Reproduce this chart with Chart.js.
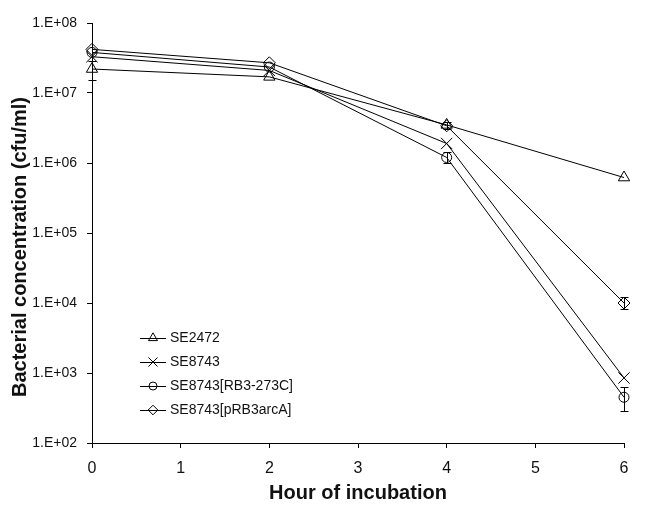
<!DOCTYPE html>
<html>
<head>
<meta charset="utf-8">
<script src="https://cdn.jsdelivr.net/npm/chart.js@4.4.0/dist/chart.umd.min.js"></script>
<style>
  body { margin: 0; background: #fff; }
  #chart { display: block; }
</style>
</head>
<body>
<canvas id="chart" width="645" height="507"></canvas>
<script>
const hours = [0, 2, 4, 6];
const seriesNames = ["SE2472", "SE8743", "SE8743[RB3-273C]", "SE8743[pRB3arcA]"];
const markers = ["triangle", "crossRot", "circle", "rectRot"];
const markerSizes = [6.5, 8, 5, 6];
const yTitle = "Bacterial concentration (cfu/ml)";

const se2472 = [2.2e7, 1.7e7, 3.5e6, 6.2e5];
const se8743 = [3.3e7, 2.1e7, 1.9e6, 8.5e2];
const rb3273c = [3.8e7, 2.35e7, 1.2e6, 4.5e2];
const prb3arca = [4.2e7, 2.7e7, 3.4e6, 1.0e4];

// error bars (low / high), null = none visible
const se2472Low = [1.55e7, null, 3.1e6, null];
const se2472High = [2.9e7, null, 3.9e6, null];
const se8743Low = [null, null, null, null];
const se8743High = [null, null, null, null];
const rb3273cLow = [null, null, 1.0e6, 2.9e2];
const rb3273cHigh = [null, null, 1.45e6, 6.3e2];
const prb3arcaLow = [null, null, null, 8.3e3];
const prb3arcaHigh = [null, null, null, 1.2e4];

const yTicks = [1e2, 1e3, 1e4, 1e5, 1e6, 1e7, 1e8];

const allValues = [se2472, se8743, rb3273c, prb3arca];
const allLow = [se2472Low, se8743Low, rb3273cLow, prb3arcaLow];
const allHigh = [se2472High, se8743High, rb3273cHigh, prb3arcaHigh];

const FONT = "'Liberation Sans', Arial, sans-serif";

const errorBars = {
    id: "errorBars",
    beforeDatasetsDraw(chart) {
        const ctx = chart.ctx;
        const xs = chart.scales.x, ys = chart.scales.y;
        ctx.save();
        ctx.strokeStyle = "#000";
        ctx.lineWidth = 1;
        chart.data.datasets.forEach((ds, k) => {
            const lo = allLow[k], hi = allHigh[k];
            for (let i = 0; i < hours.length; i++) {
                if (lo[i] == null) continue;
                const x = Math.round(xs.getPixelForValue(hours[i])) + 0.5;
                const y1 = Math.round(ys.getPixelForValue(lo[i])) + 0.5;
                const y2 = Math.round(ys.getPixelForValue(hi[i])) + 0.5;
                ctx.beginPath();
                ctx.moveTo(x, y1); ctx.lineTo(x, y2);
                ctx.moveTo(x - 4, y1); ctx.lineTo(x + 4, y1);
                ctx.moveTo(x - 4, y2); ctx.lineTo(x + 4, y2);
                ctx.stroke();
            }
        });
        ctx.restore();
    }
};

// legend inside the plot + y title (sits a bit below the centre in the original)
const legendBox = {
    id: "legendBox",
    afterDraw(chart) {
        const ctx = chart.ctx;
        ctx.save();
        ctx.font = "14px " + FONT;
        ctx.textBaseline = "middle";
        seriesNames.forEach((name, k) => {
            const y = 338 + k * 24;
            ctx.strokeStyle = "#000";
            ctx.fillStyle = "rgba(0,0,0,0)";
            ctx.lineWidth = 1;
            ctx.beginPath();
            ctx.moveTo(140, y + 0.5); ctx.lineTo(166, y + 0.5);
            ctx.stroke();
            Chart.helpers.drawPoint(ctx, { pointStyle: markers[k], radius: markerSizes[k] * 0.8, borderWidth: 1, rotation: 0 }, 153, y);
            ctx.fillStyle = "#111";
            ctx.fillText(name, 170, y);
        });
        ctx.translate(20, 247);
        ctx.rotate(-Math.PI / 2);
        ctx.font = "bold 20px " + FONT;
        ctx.textAlign = "center";
        ctx.fillText(yTitle, 0, 0);
        ctx.restore();
    }
};

const datasets = seriesNames.map((name, k) => ({
    label: name,
    data: hours.map((h, i) => ({ x: h, y: allValues[k][i] })),
    borderColor: "#000",
    borderWidth: 1,
    backgroundColor: "rgba(0,0,0,0)",
    pointStyle: markers[k],
    pointRadius: markerSizes[k],
    pointBorderColor: "#000",
    pointBackgroundColor: "rgba(0,0,0,0)",
    pointBorderWidth: 1,
    tension: 0,
    clip: false
}));

new Chart(document.getElementById("chart"), {
    type: "line",
    data: { datasets },
    options: {
        responsive: false,
        animation: false,
        layout: { padding: { left: 0, right: 21, top: 23, bottom: 0 } },
        plugins: {
            legend: { display: false },
            tooltip: { enabled: false }
        },
        scales: {
            x: {
                type: "linear",
                min: 0,
                max: 6,
                afterFit: s => { s.height = 64; },
                ticks: { stepSize: 1, color: "#111", font: { family: FONT, size: 16 }, padding: 11 },
                grid: { drawOnChartArea: false, drawTicks: true, tickLength: 5, color: "#000" },
                border: { color: "#000" },
                title: { display: true, text: "Hour of incubation", color: "#111", font: { family: FONT, size: 20, weight: "bold" }, padding: { top: 4, bottom: 2 } }
            },
            y: {
                type: "logarithmic",
                min: 1e2,
                max: 1e8,
                afterFit: s => { s.width = 92; },
                afterBuildTicks: s => { s.ticks = yTicks.map(v => ({ value: v })); },
                ticks: {
                    color: "#111",
                    font: { family: FONT, size: 14 },
                    padding: 10,
                    callback: v => "1.E+" + String(Math.round(Math.log10(v))).padStart(2, "0")
                },
                grid: { drawOnChartArea: false, drawTicks: true, tickLength: 5, color: "#000" },
                border: { color: "#000" }
            }
        }
    },
    plugins: [errorBars, legendBox]
});
</script>
</body>
</html>
